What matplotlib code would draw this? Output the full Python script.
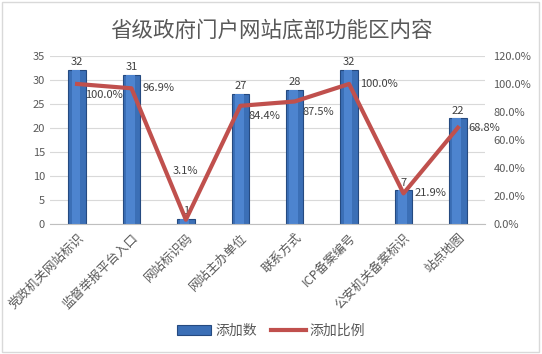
import numpy as np
import matplotlib.pyplot as plt
from matplotlib.patches import Rectangle

plt.rcParams['font.family'] = ['Noto Sans CJK SC', 'DejaVu Sans']

categories = ['党政机关网站标识', '监督举报平台入口', '网站标识码', '网站主办单位',
              '联系方式', 'ICP备案编号', '公安机关备案标识', '站点地图']
counts = [32, 31, 1, 27, 28, 32, 7, 22]
ratios = [100.0, 96.9, 3.1, 84.4, 87.5, 100.0, 21.9, 68.8]
left_ticks = [0, 5, 10, 15, 20, 25, 30, 35]
right_ticks = [0, 20, 40, 60, 80, 100, 120]

gray = '#595959'
fig = plt.figure(figsize=(5.42, 3.54), dpi=100)
fig.patches.append(Rectangle((0.004, 0.006), 0.991, 0.988, transform=fig.transFigure,
                             fill=False, edgecolor='#d9d9d9', linewidth=1))
ax = fig.add_axes([0.092, 0.367, 0.803, 0.475])
x = np.arange(len(categories))

ax.set_axisbelow(True)
ax.yaxis.grid(True, color='#d9d9d9', linewidth=0.8)
bars = ax.bar(x, counts, width=0.32, color='#3b6fb6', edgecolor='#254a80', linewidth=0.8,
              label='添加数', zorder=2)
# lighter centre strip for the shaded look
ax.bar(x - 0.02, counts, width=0.16, color='#4d84cf', linewidth=0, zorder=2)
for xi, c in zip(x, counts):
    ax.text(xi, c + 0.6, str(c), ha='center', va='bottom', fontsize=8, color='#404040')

ax.set_xlim(-0.5, 7.5)
ax.set_ylim(0, 35)
ax.set_yticks(left_ticks)
ax.set_xticks(x)
ax.set_xticklabels(categories, rotation=45, ha='right', rotation_mode='anchor', fontsize=9, color=gray)
ax.tick_params(axis='both', length=0, labelsize=8, colors=gray)
ax.tick_params(axis='x', pad=5, labelsize=9)
for s in ['top', 'left', 'right']:
    ax.spines[s].set_visible(False)
ax.spines['bottom'].set_color('#bfbfbf')

ax2 = ax.twinx()
line, = ax2.plot(x, ratios, color='#c0504d', linewidth=3, label='添加比例', zorder=3)
ax2.set_ylim(0, 120)
ax2.set_yticks(right_ticks)
ax2.set_yticklabels(['%.1f%%' % t for t in right_ticks])
ax2.tick_params(axis='y', length=0, labelsize=8, colors=gray, pad=6)
for s in ax2.spines.values():
    s.set_visible(False)

for i, (xi, r) in enumerate(zip(x, ratios)):
    lab = '%.1f%%' % r
    if i == 2:
        ax2.text(xi, 38, lab, ha='center', va='center', fontsize=8, color='#404040')
    elif i in (0, 3, 4):
        ax2.text(xi + 0.15, r - 4, lab, ha='left', va='top', fontsize=8, color='#404040')
    else:
        ax2.text(xi + 0.2, r, lab, ha='left', va='center', fontsize=8, color='#404040')

fig.suptitle('省级政府门户网站底部功能区内容', y=0.945, fontsize=15.5, color=gray)
fig.legend(handles=[bars, line], loc='lower center', bbox_to_anchor=(0.5, 0.01), ncol=2,
           frameon=False, fontsize=10, labelcolor=gray, handlelength=2.5, columnspacing=1.0,
           handletextpad=0.3)
fig.savefig('out.png', dpi=100)
